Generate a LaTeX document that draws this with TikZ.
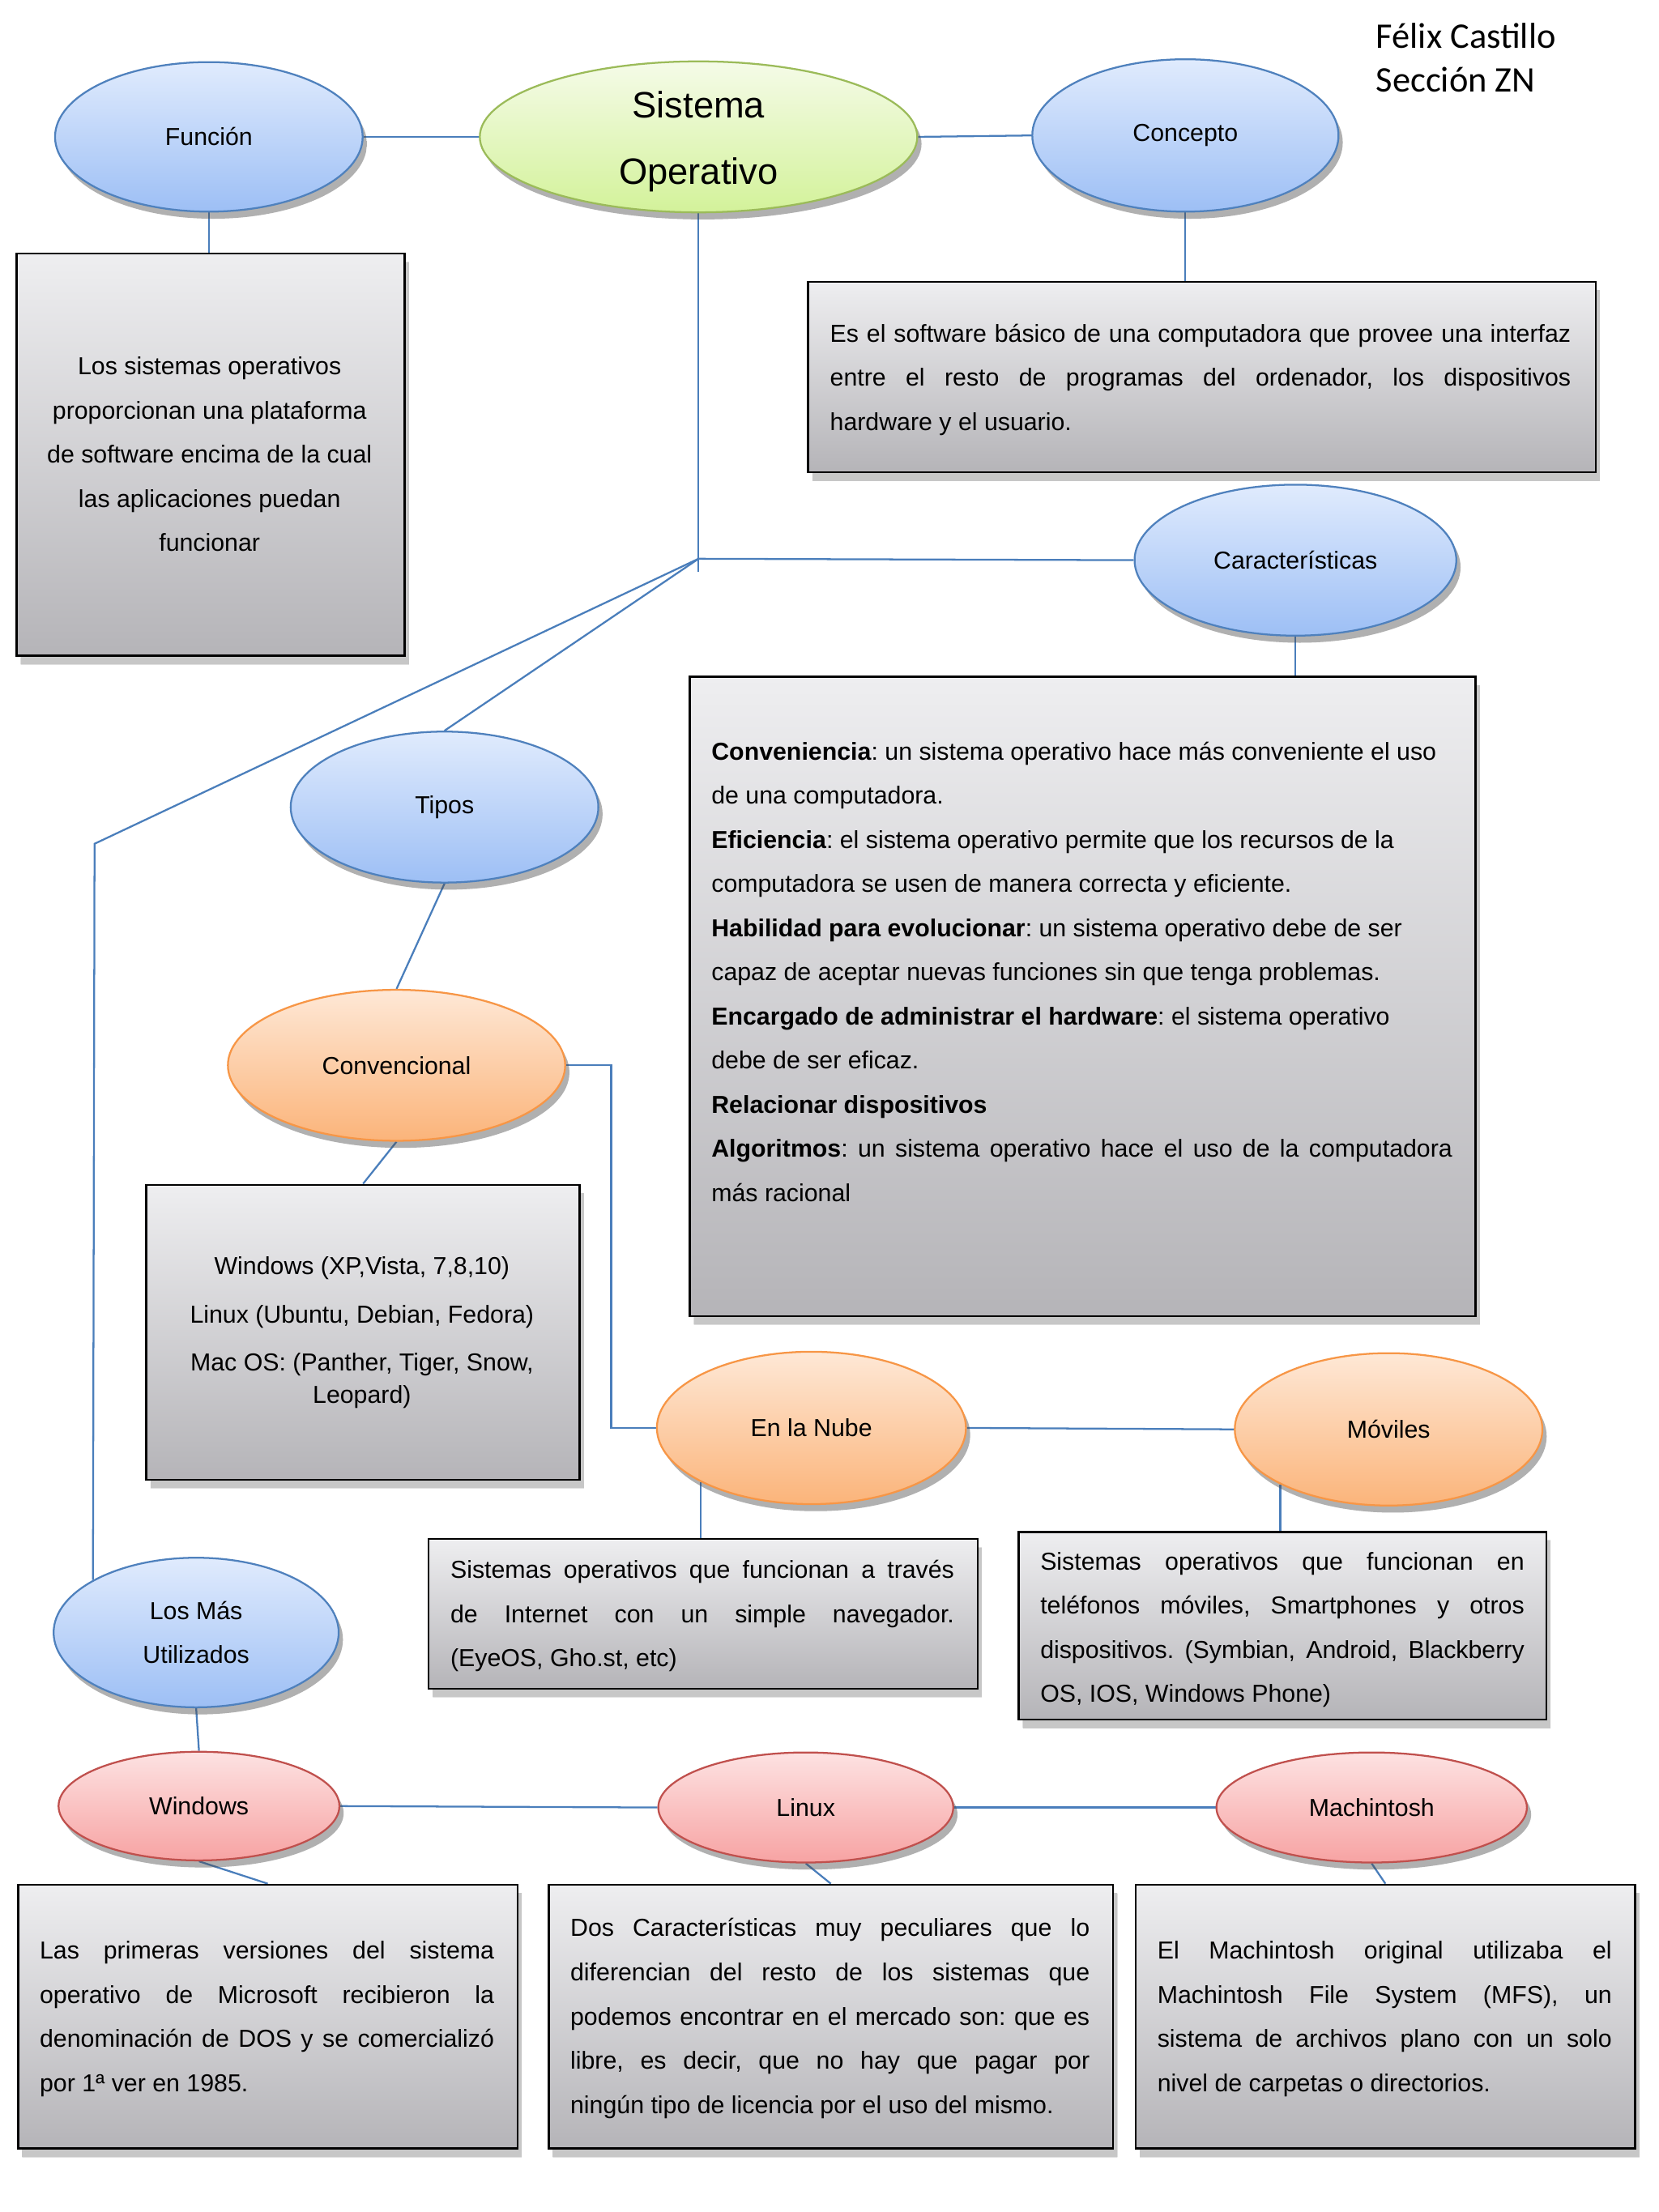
\documentclass[tikz,border=0pt]{standalone}
\usepackage{fontspec}
\setmainfont{Liberation Sans}
\newfontfamily\authorfont{Carlito}
\usetikzlibrary{shapes.geometric,shadows,calc}
\pgfdeclarelayer{bg}
\pgfsetlayers{bg,main}
\definecolor{bluetop}{HTML}{E0EBFD}
\definecolor{bluebot}{HTML}{9DBFF5}
\definecolor{bluebd}{HTML}{4F81BD}
\definecolor{greentop}{HTML}{F5FBE8}
\definecolor{greenbot}{HTML}{D3F29A}
\definecolor{greenbd}{HTML}{9BBB59}
\definecolor{orangetop}{HTML}{FEE8D6}
\definecolor{orangebot}{HTML}{FBB47A}
\definecolor{orangebd}{HTML}{F79646}
\definecolor{redtop}{HTML}{FDE2E2}
\definecolor{redbot}{HTML}{F7A3A3}
\definecolor{redbd}{HTML}{C0504D}
\definecolor{graytop}{HTML}{EEEEF0}
\definecolor{graybot}{HTML}{B5B4B8}
\definecolor{linecol}{HTML}{4A7EBB}
\newcommand\natsp{\spaceskip=0.2778em\relax\xspaceskip=0.2778em\relax\frenchspacing}
\newcommand\jl[2]{{\spaceskip=0pt\xspaceskip=0pt\frenchspacing\makebox[#1][s]{#2}}}
\begin{document}
\begin{tikzpicture}[x=1pt,y=-1pt,
  ell/.style={ellipse, line width=1.3pt, inner sep=0pt,
    font=\fontsize{17.4}{31}\selectfont, align=center, execute at begin node=\natsp,
    drop shadow={shadow xshift=3pt,shadow yshift=-5pt,opacity=0.25,fill=black!70,top color=black!70,bottom color=black!70}},
  blueell/.style={ell, draw=bluebd, top color=bluetop, bottom color=bluebot},
  greenell/.style={ell, draw=greenbd, top color=greentop, bottom color=greenbot},
  orangeell/.style={ell, draw=orangebd, top color=orangetop, bottom color=orangebot},
  redell/.style={ell, draw=redbd, top color=redtop, bottom color=redbot},
  graybox/.style={rectangle, draw=black, line width=1.5pt, inner sep=0pt, anchor=north west,
    top color=graytop, bottom color=graybot,
    drop shadow={shadow xshift=3pt,shadow yshift=-6pt,opacity=0.2,fill=black!60,top color=black!60,bottom color=black!60}},
  txt/.style={inner sep=0pt, font=\fontsize{17.4}{31.3}\selectfont, align=left, anchor=base west, execute at begin node=\natsp},
  ctxt/.style={inner sep=0pt, font=\fontsize{17.4}{31.3}\selectfont, align=center, anchor=base, execute at begin node=\natsp},
  conn/.style={draw=linecol, line width=1.3pt}
]
\useasboundingbox (0,0) rectangle (1175.6,1567.7);

% ---------- ellipses ----------
\node[blueell, minimum width=218pt, minimum height=106pt] (fun) at (148,97) {Función};
\node[greenell, minimum width=310pt, minimum height=107pt] (so) at (495,97) {};
\node[ctxt, text width=300pt, font=\fontsize{26}{47}\selectfont] (sotxt) at (495,83.5) {Sistema\\Operativo};
\node[blueell, minimum width=217pt, minimum height=108pt] (con) at (840,96) {Concepto};
\node[blueell, minimum width=228pt, minimum height=107pt] (car) at (918,397) {Características};
\node[blueell, minimum width=218pt, minimum height=107pt] (tip) at (315,572) {Tipos};
\node[orangeell, minimum width=239pt, minimum height=107pt] (conv) at (281,755) {Convencional};
\node[orangeell, minimum width=219pt, minimum height=108pt] (nube) at (575,1012) {En la Nube};
\node[orangeell, minimum width=218pt, minimum height=108pt] (mov) at (984,1013) {Móviles};
\node[blueell, minimum width=202pt, minimum height=106pt] (mas) at (139,1157) {Los Más\\Utilizados};
\node[redell, minimum width=199pt, minimum height=77pt] (win) at (141,1280) {Windows};
\node[redell, minimum width=209pt, minimum height=78pt] (lin) at (571,1281) {Linux};
\node[redell, minimum width=220pt, minimum height=78pt] (mac) at (972,1281) {Machintosh};

% ---------- boxes ----------
\node[graybox, minimum width=275pt, minimum height=285pt] (funbox) at (11,179) {};
\node[graybox, minimum width=558pt, minimum height=135pt] (conbox) at (572,199) {};
\node[graybox, minimum width=557pt, minimum height=453pt] (carbox) at (488,479) {};
\node[graybox, minimum width=307pt, minimum height=209pt] (convbox) at (103,839) {};
\node[graybox, minimum width=389pt, minimum height=106pt] (nubebox) at (303,1090) {};
\node[graybox, minimum width=374pt, minimum height=133pt] (movbox) at (721,1085) {};
\node[graybox, minimum width=354pt, minimum height=187pt] (winbox) at (12,1335) {};
\node[graybox, minimum width=400pt, minimum height=187pt] (linbox) at (388,1335) {};
\node[graybox, minimum width=354pt, minimum height=187pt] (macbox) at (804,1335) {};

% ---------- box texts ----------
\node[ctxt, text width=270pt] (funtxt) at (148.5,265.5) {Los sistemas operativos\\proporcionan una plataforma\\de software encima de la cual\\las aplicaciones puedan\\funcionar};

\node[txt, text width=525pt] (contxt) at (588,242.5) {\jl{525pt}{Es el software básico de una computadora que provee una interfaz}\\
\jl{525pt}{entre el resto de programas del ordenador, los dispositivos}\\
hardware y el usuario.};

\node[txt, text width=525pt] (cartxt) at (504,538.5) {\textbf{Conveniencia}: un sistema operativo hace más conveniente el uso\\
de una computadora.\\
\textbf{Eficiencia}: el sistema operativo permite que los recursos de la\\
computadora se usen de manera correcta y eficiente.\\
\textbf{Habilidad para evolucionar}: un sistema operativo debe de ser\\
capaz de aceptar nuevas funciones sin que tenga problemas.\\
\textbf{Encargado de administrar el hardware}: el sistema operativo\\
debe de ser eficaz.\\
\textbf{Relacionar dispositivos}\\
\jl{525pt}{\textbf{Algoritmos}: un sistema operativo hace el uso de la computadora}\\
más racional};

\node[ctxt, text width=300pt, font=\fontsize{17.4}{23}\selectfont] (convtxt) at (256.5,903.5) {Windows (XP,Vista, 7,8,10)\\[11pt]
Linux (Ubuntu, Debian, Fedora)\\[11pt]
Mac OS: (Panther, Tiger, Snow,\\Leopard)};

\node[txt, text width=357pt] (nubetxt) at (319,1118.5) {\jl{357pt}{Sistemas operativos que funcionan a través}\\
\jl{357pt}{de Internet con un simple navegador.}\\
(EyeOS, Gho.st, etc)};

\node[txt, text width=343pt] (movtxt) at (737,1112.5) {\jl{343pt}{Sistemas operativos que funcionan en}\\
\jl{343pt}{teléfonos móviles, Smartphones y otros}\\
\jl{343pt}{dispositivos. (Symbian, Android, Blackberry}\\
OS, IOS, Windows Phone)};

\node[txt, text width=322pt] (wintxt) at (28,1388.5) {\jl{322pt}{Las primeras versiones del sistema}\\
\jl{322pt}{operativo de Microsoft recibieron la}\\
\jl{322pt}{denominación de DOS y se comercializó}\\
por 1ª ver en 1985.};

\node[txt, text width=368pt] (lintxt) at (404,1372.5) {\jl{368pt}{Dos Características muy peculiares que lo}\\
\jl{368pt}{diferencian del resto de los sistemas que}\\
\jl{368pt}{podemos encontrar en el mercado son: que es}\\
\jl{368pt}{libre, es decir, que no hay que pagar por}\\
ningún tipo de licencia por el uso del mismo.};

\node[txt, text width=322pt] (mactxt) at (820,1388.5) {\jl{322pt}{El Machintosh original utilizaba el}\\
\jl{322pt}{Machintosh File System (MFS), un}\\
\jl{322pt}{sistema de archivos plano con un solo}\\
nivel de carpetas o directorios.};

% ---------- author ----------
\node[inner sep=0pt, anchor=base west, align=left, font=\authorfont\fontsize{25.5}{31}\selectfont, text width=200pt, execute at begin node={\spaceskip=0.226em\relax}] (author) at (975,34) {Félix Castillo\\Sección ZN};

% ---------- connectors ----------
\coordinate (j) at (495,396);
\coordinate (jend) at (495,405);
\coordinate (bend) at (67,598);
\begin{pgfonlayer}{bg}
\fill[white] (0,0) rectangle (1175.6,1567.7);
\draw[conn] (fun.east) -- (so.west);
\draw[conn] (so.east) -- (con.west);
\draw[conn] (fun.south) -- (fun.south |- funbox.north);
\draw[conn] (con.south) -- (con.south |- conbox.north);
\draw[conn] (so.south) -- (jend);
\draw[conn] (j) -- (car.west);
\draw[conn] (car.south) -- (car.south |- carbox.north);
\draw[conn] (j) -- (tip.north);
\draw[conn] (j) -- (bend) -- (mas.153);
\draw[conn] (tip.south) -- (conv.north);
\draw[conn] (conv.south) -- (convbox.north);
\draw[conn] (conv.east) -- ++(32,0) |- (nube.west);
\draw[conn] (nube.east) -- (mov.west);
\draw[conn] (nube.206) -- (nube.206 |- nubebox.north);
\draw[conn] (mov.207) -- (mov.207 |- movbox.north);
\draw[conn] (mas.south) -- (win.north);
\draw[conn] (win.east) -- (lin.west);
\draw[conn] (lin.east) -- (mac.west);
\draw[conn] (win.south) -- (winbox.north);
\draw[conn] (lin.south) -- (linbox.north);
\draw[conn] (mac.south) -- (macbox.north);
\end{pgfonlayer}
\end{tikzpicture}
\end{document}
